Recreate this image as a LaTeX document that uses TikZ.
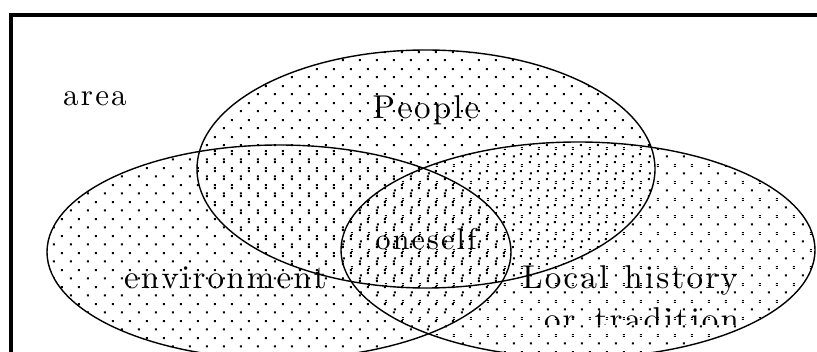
\documentclass[tikz,border=0pt]{standalone}
\usepackage{fontspec}
\newfontfamily\lblfont{lmroman10-regular.otf}
\newdimen\spcamt
\spcamt=2.2pt
\makeatletter
\def\spc@end{\spc@end}
\newcommand\spc[1]{\spc@#1\spc@end}
\def\spc@#1{\ifx#1\spc@end\unkern\else#1\kern\spcamt\relax\expandafter\spc@\fi}
\makeatother
\pgfdeclarepatternformonly{dotgridP}{\pgfqpoint{0pt}{0pt}}{\pgfqpoint{17pt}{17pt}}{\pgfqpoint{17pt}{17pt}}{%
  \pgfpathrectangle{\pgfqpoint{2pt}{2pt}}{\pgfqpoint{2.1pt}{2.1pt}}%
  \pgfpathrectangle{\pgfqpoint{10.5pt}{10.5pt}}{\pgfqpoint{2.1pt}{2.1pt}}%
  \pgfusepath{fill}}
\pgfdeclarepatternformonly{dotgridE}{\pgfqpoint{0pt}{0pt}}{\pgfqpoint{17pt}{17pt}}{\pgfqpoint{17pt}{17pt}}{%
  \pgfpathrectangle{\pgfqpoint{2pt}{5pt}}{\pgfqpoint{2.1pt}{2.1pt}}%
  \pgfpathrectangle{\pgfqpoint{10.5pt}{13.5pt}}{\pgfqpoint{2.1pt}{2.1pt}}%
  \pgfusepath{fill}}
\pgfdeclarepatternformonly{dotgridL}{\pgfqpoint{0pt}{0pt}}{\pgfqpoint{17pt}{17pt}}{\pgfqpoint{17pt}{17pt}}{%
  \pgfpathrectangle{\pgfqpoint{3pt}{8pt}}{\pgfqpoint{2.1pt}{2.1pt}}%
  \pgfpathrectangle{\pgfqpoint{11.5pt}{0pt}}{\pgfqpoint{2.1pt}{1pt}}%
  \pgfpathrectangle{\pgfqpoint{11.5pt}{15.9pt}}{\pgfqpoint{2.1pt}{1.1pt}}%
  \pgfusepath{fill}}
\usetikzlibrary{patterns}
\tikzset{
  lbl/.style={font=\lblfont\fontsize{33}{36}\selectfont, inner sep=0pt, anchor=base},
  lblsmall/.style={font=\lblfont\fontsize{30}{33}\selectfont, inner sep=0pt, anchor=base},
  ring/.style={draw=black, line width=1.4pt},
  frameline/.style={line width=3.8pt, draw=black},
  dotsP/.style={pattern=dotgridP},
  dotsE/.style={pattern=dotgridE},
  dotsL/.style={pattern=dotgridL}
}
\begin{document}
\begin{tikzpicture}[x=1pt, y=-1pt]
  \useasboundingbox (0,0) rectangle (817,352);
  \fill[white] (0,0) rectangle (817,352);
  \clip (0,0) rectangle (817,352);
  % dotted fills
  \fill[dotsP] (426,169) ellipse [x radius=229pt, y radius=119pt];
  \fill[dotsE] (279,252) ellipse [x radius=232pt, y radius=107pt];
  \fill[dotsL] (578,250) ellipse [x radius=237pt, y radius=108pt];
  % outlines
  \draw[ring] (426,169) ellipse [x radius=229pt, y radius=119pt];
  \draw[ring] (279,252) ellipse [x radius=232pt, y radius=107pt];
  \draw[ring] (578,250) ellipse [x radius=237pt, y radius=108pt];
  % frame
  \coordinate (fc) at (11.3,15);
  \coordinate (fb) at (11.3,360);
  \coordinate (fr) at (830,15);
  \draw[frameline] (fb) -- (fc) -- (fr);
  % labels
  \node[lbl, font=\lblfont\fontsize{31}{34}\selectfont] (area) at (95,106) {\spc{area}};
  \node[lbl] (people) at (426,119) {\spc{People}};
  \node[lbl] (env) at (225.5,289) {\spc{environment}};
  \node[lblsmall] (self) at (426,250) {\spc{oneself}};
  \node[lbl] (local) at (630,289) {\spc{Local}\hspace{16pt}\spc{history}};
  \begin{scope}
    \clip (0,0) rectangle (817,325);
    \node[lbl] (trad) at (641.5,331) {\spc{or}\hspace{19pt}\spc{tradition}};
  \end{scope}
\end{tikzpicture}
\end{document}
